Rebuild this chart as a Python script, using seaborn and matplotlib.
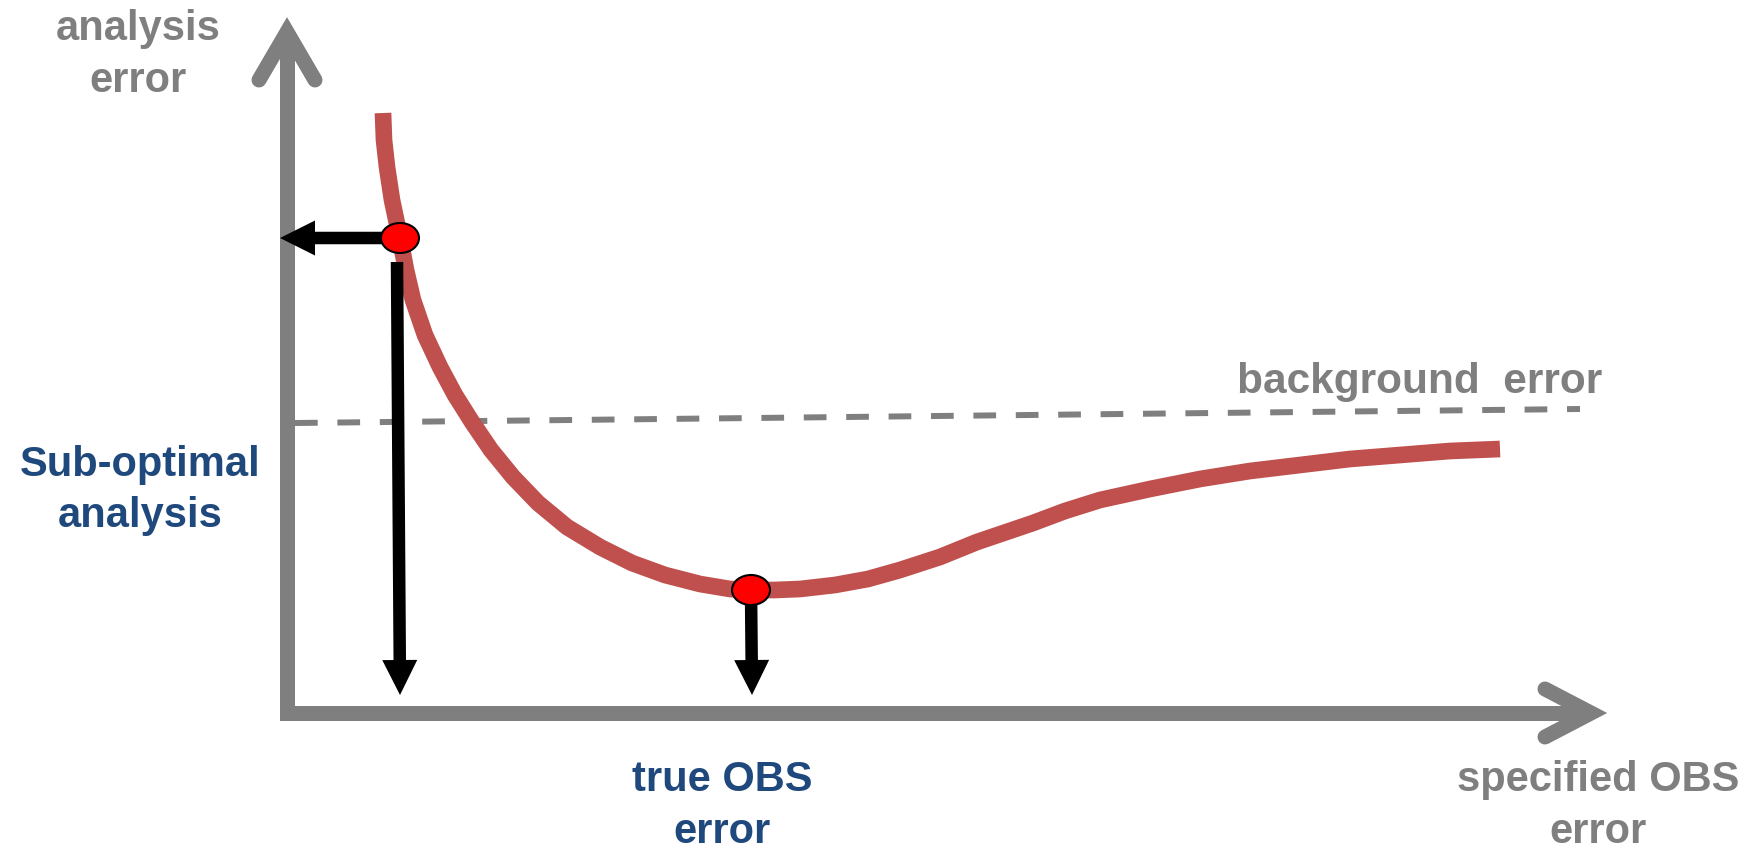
import matplotlib
matplotlib.use('Agg')
import matplotlib.pyplot as plt
from matplotlib.patches import Ellipse
import seaborn as sns

# analysis error curve (arbitrary units)
obs_err = [0.96, 0.97, 1.00, 1.05, 1.13, 1.19, 1.26, 1.38, 1.53, 1.68, 1.85, 2.04,
           2.26, 2.51, 2.80, 3.13, 3.45, 3.78, 4.13, 4.43, 4.64, 4.88, 5.13, 5.48,
           5.81, 6.13, 6.53, 6.90, 7.46, 7.78, 8.13, 8.63, 9.13, 9.63, 10.13, 10.63,
           11.13, 11.63, 12.13]
ana_err = [6.00, 5.73, 5.46, 5.13, 4.75, 4.43, 4.13, 3.78, 3.46, 3.18, 2.91, 2.63,
           2.36, 2.10, 1.86, 1.66, 1.50, 1.38, 1.29, 1.24, 1.23, 1.23, 1.24, 1.28,
           1.34, 1.43, 1.56, 1.71, 1.90, 2.02, 2.13, 2.24, 2.34, 2.42, 2.48, 2.54,
           2.58, 2.62, 2.64]

# background error (dashed)
bg_x = [0.08, 12.93]
bg_y = [2.90, 3.04]

# highlighted points: sub-optimal and true OBS error
pt_x = [1.13, 4.64]
pt_y = [4.75, 1.23]

gray = '#7f7f7f'
blue = '#1f497d'
red_line = '#c0504d'

sns.set_theme(style='white')
plt.rcParams['font.family'] = ['Liberation Sans', 'DejaVu Sans']
plt.rcParams['font.weight'] = 'bold'

fig = plt.figure(figsize=(17.49, 8.5), dpi=100)
ax = fig.add_axes([0, 0, 1, 1])
ax.set_xlim(-2.87, 14.62)
ax.set_ylim(-1.37, 7.13)
ax.axis('off')

# axes drawn by hand as thick gray arrows
x_end, y_end = 13.04, 6.81
axis_lw = 10.8
ax.plot([0, 0, x_end], [y_end, 0, 0], color=gray, lw=axis_lw,
        solid_joinstyle='miter', solid_capstyle='butt', zorder=1)
ax.plot([-0.28, 0, 0.28], [y_end - 0.48, y_end, y_end - 0.48], color=gray, lw=axis_lw,
        solid_joinstyle='miter', solid_capstyle='round', zorder=1)
ax.plot([x_end - 0.46, x_end, x_end - 0.46], [0.24, 0, -0.24], color=gray, lw=axis_lw,
        solid_joinstyle='miter', solid_capstyle='round', zorder=1)

# background error dashed line
sns.lineplot(x=bg_x, y=bg_y, color=gray, lw=4.3, ax=ax, zorder=2)
ax.lines[-1].set_dashes([3.8, 3.3])
ax.lines[-1].set_dash_capstyle('butt')

# analysis error curve
sns.lineplot(x=obs_err, y=ana_err, color=red_line, lw=12, ax=ax, zorder=3,
             solid_capstyle='butt', solid_joinstyle='round')

# black arrows from the highlighted points to the axes
arr = dict(width=0.125, head_width=0.35, head_length=0.35, length_includes_head=True,
           fc='black', ec='black', lw=0, zorder=4)
ax.arrow(pt_x[0], pt_y[0], -0.07 - pt_x[0], 0, **arr)
ax.arrow(pt_x[0] - 0.03, pt_y[0] - 0.24, 0.03, 0.18 - (pt_y[0] - 0.24), **arr)
ax.arrow(pt_x[1], pt_y[1], 0.01, 0.18 - pt_y[1], **arr)

for x, y in zip(pt_x, pt_y):
    ax.add_patch(Ellipse((x, y), 0.38, 0.30, fc='#ff0000', ec='black', lw=1.5, zorder=5))

# labels (y = baseline of the last line)
fs = 30
ax.text(-1.49, 6.21, 'analysis\nerror', color=gray, fontsize=fs, fontweight='bold',
        ha='center', va='baseline', linespacing=1.38)
ax.text(-1.47, 1.86, 'Sub-optimal\nanalysis', color=blue, fontsize=fs, fontweight='bold',
        ha='center', va='baseline', linespacing=1.34)
ax.text(4.35, -1.30, 'true OBS\nerror', color=blue, fontsize=fs, fontweight='bold',
        ha='center', va='baseline', linespacing=1.38)
ax.text(13.11, -1.30, 'specified OBS\nerror', color=gray, fontsize=fs, fontweight='bold',
        ha='center', va='baseline', linespacing=1.38)
ax.text(11.33, 3.20, 'background  error', color=gray, fontsize=30.5, fontweight='bold',
        ha='center', va='baseline')

fig.savefig('out.png', dpi=100, facecolor='white')
plt.close(fig)
